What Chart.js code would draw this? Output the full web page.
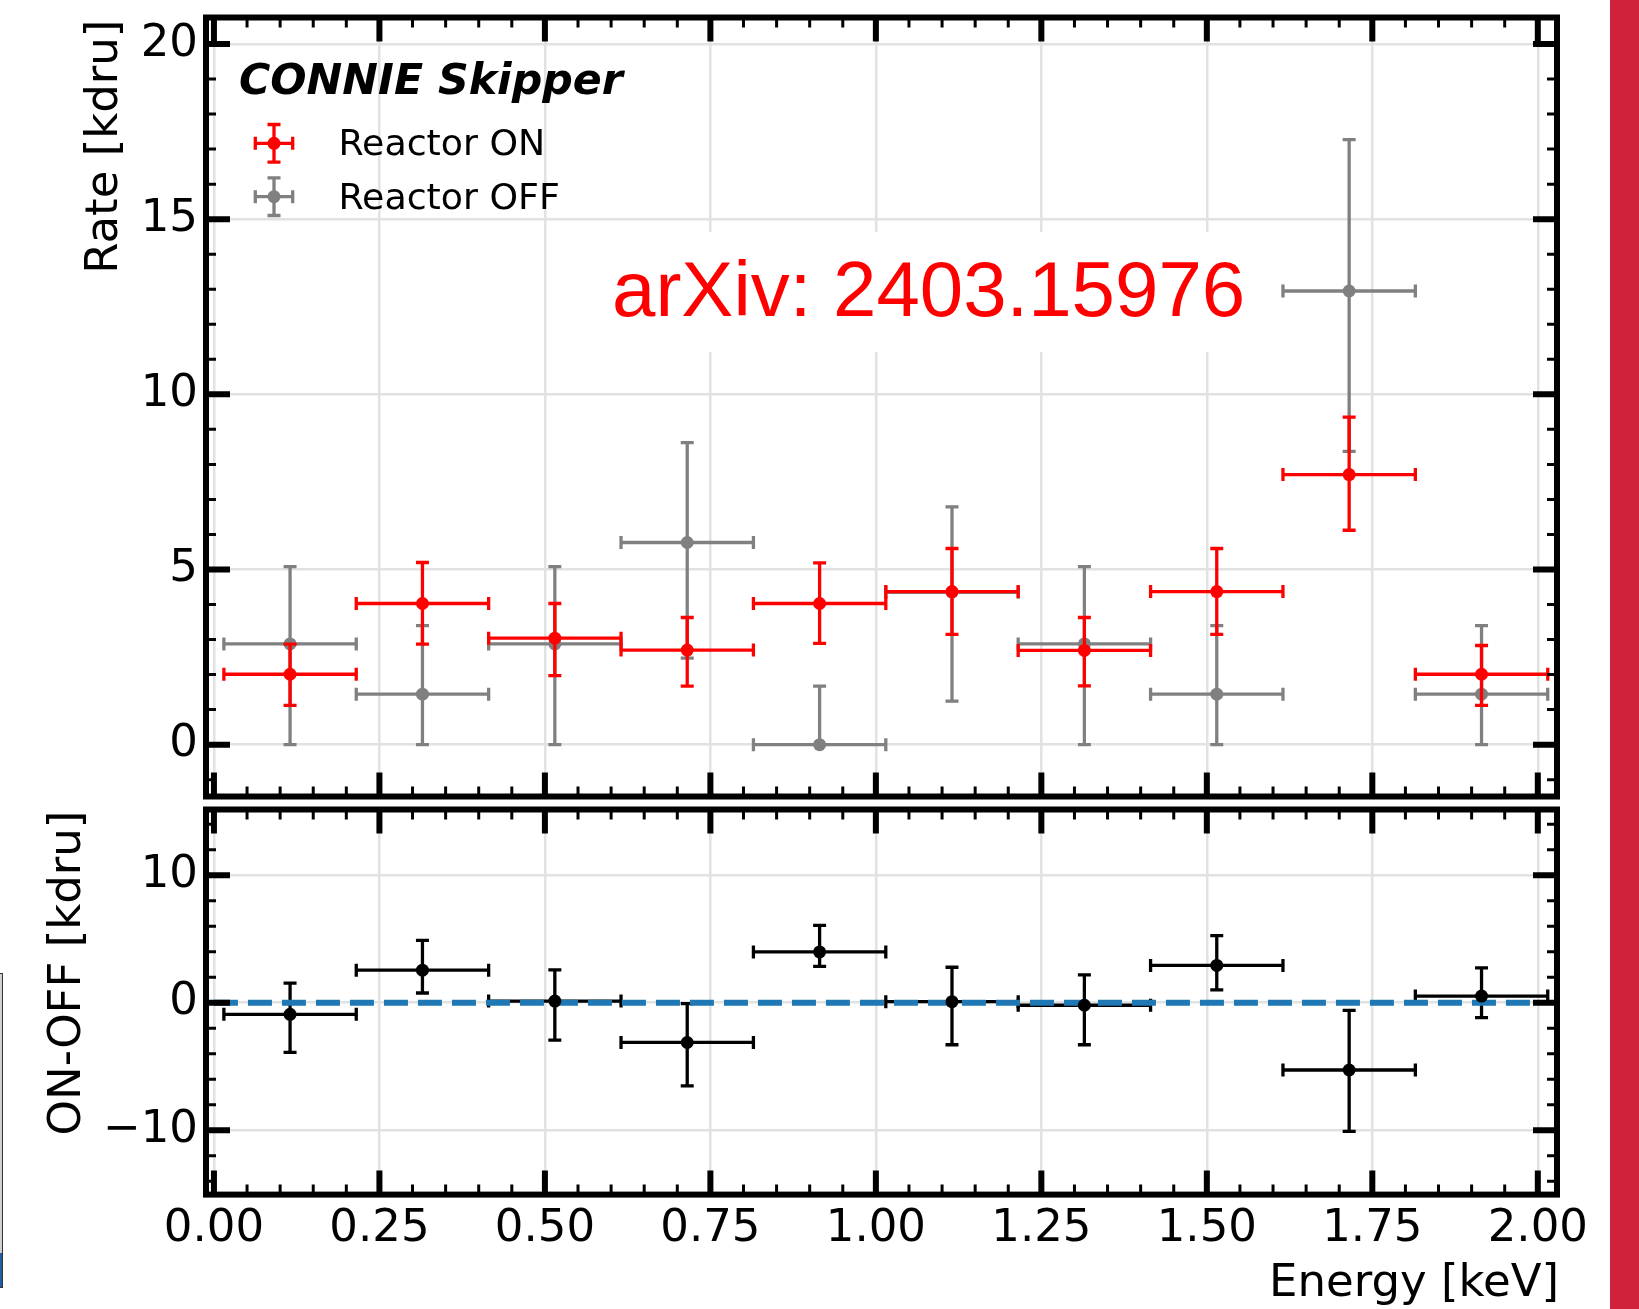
<!DOCTYPE html>
<html>
<head>
<meta charset="utf-8">
<script src="https://cdn.jsdelivr.net/npm/chart.js@4.4.1/dist/chart.umd.min.js"></script>
<style>
html, body { margin: 0; padding: 0; background: #fff; }
body { width: 1639px; height: 1309px; position: relative; overflow: hidden; }
canvas { position: absolute; left: 0; }
#topChart { top: 0; }
#bottomChart { top: 803px; }
#sideBar { position: absolute; left: 1610px; top: 0; width: 29px; height: 1309px; background: #d0233a; }
#leftStrip { position: absolute; left: 0; top: 973px; width: 2px; height: 280px; background: #cfcfcf;
  border: 1px solid #333; border-left: none; border-bottom: none; }
#leftStripBlue { position: absolute; left: 0; top: 1253px; width: 2px; height: 34px; background: #1f5f9f;
  border-right: 1px solid #333; border-bottom: 1px solid #333; }
</style>
</head>
<body>
<canvas id="topChart" width="1639" height="803"></canvas>
<canvas id="bottomChart" width="1639" height="506"></canvas>
<div id="sideBar"></div>
<div id="leftStrip"></div>
<div id="leftStripBlue"></div>
<script>
// bin centres [keV] and half width
const energy = [0.115, 0.315, 0.515, 0.715, 0.915, 1.115, 1.315, 1.515, 1.715, 1.915];
const binHalfWidth = 0.1;

// Reactor ON rate [kdru]
const rateOn      = [2.01, 4.03, 3.04, 2.70, 4.03, 4.37, 2.69, 4.37, 7.71, 2.01];
const rateOnErrLo = [0.89, 1.16, 1.07, 1.03, 1.14, 1.22, 1.01, 1.22, 1.59, 0.89];
const rateOnErrHi = [0.86, 1.17, 0.99, 0.93, 1.16, 1.23, 0.94, 1.23, 1.64, 0.82];

// Reactor OFF rate [kdru]
const rateOff      = [2.875, 1.44, 2.875, 5.77, 0.00, 4.35, 2.875, 1.44, 12.95, 1.44];
const rateOffErrLo = [2.875, 1.44, 2.875, 3.30, 0.00, 3.11, 2.875, 1.44, 4.58, 1.44];
const rateOffErrHi = [2.205, 1.96, 2.205, 2.85, 1.67, 2.44, 2.205, 1.96, 4.32, 1.96];

// ON - OFF [kdru]
const diff      = [-0.91, 2.55, 0.13, -3.12, 3.98, 0.08, -0.20, 2.92, -5.28, 0.52];
const diffErrLo = [2.99, 1.79, 3.06, 3.40, 1.14, 3.38, 3.10, 1.91, 4.81, 1.69];
const diffErrHi = [2.45, 2.34, 2.45, 3.04, 2.08, 2.70, 2.38, 2.34, 4.68, 2.21];

// zero reference line
const zeroLineX = [0.0, 2.0];

// ticks
const xTicks = [0, 0.25, 0.5, 0.75, 1.0, 1.25, 1.5, 1.75, 2.0];
const xTickLabels = ['0.00', '0.25', '0.50', '0.75', '1.00', '1.25', '1.50', '1.75', '2.00'];
const rateTicks = [0, 5, 10, 15, 20];
const rateTickLabels = ['0', '5', '10', '15', '20'];
const diffTicks = [-10, 0, 10];
const diffTickLabels = ['\u221210', '0', '10'];

Chart.defaults.font.family = '"DejaVu Sans"';
Chart.defaults.color = '#000';

const toPoints = (ys) => energy.map((e, i) => ({x: e, y: ys[i]}));
const xErr = energy.map(() => binHalfWidth);

function drawErrorBars(chart, ds) {
  if (!ds.errLo) return;
  const {ctx, chartArea: a, scales: {x, y}} = chart;
  const cap = 6.5;
  ctx.save();
  ctx.beginPath();
  ctx.rect(a.left, a.top, a.right - a.left, a.bottom - a.top);
  ctx.clip();
  ctx.strokeStyle = ds.backgroundColor;
  ctx.lineWidth = 3.3;
  ctx.lineCap = 'butt';
  ds.data.forEach((p, j) => {
    const px = x.getPixelForValue(p.x), py = y.getPixelForValue(p.y);
    const x0 = x.getPixelForValue(p.x - ds.xErr[j]), x1 = x.getPixelForValue(p.x + ds.xErr[j]);
    const y0 = y.getPixelForValue(p.y - ds.errLo[j]), y1 = y.getPixelForValue(p.y + ds.errHi[j]);
    ctx.beginPath();
    ctx.moveTo(x0, py); ctx.lineTo(x1, py);
    ctx.moveTo(px, y0); ctx.lineTo(px, y1);
    ctx.moveTo(x0, py - cap); ctx.lineTo(x0, py + cap);
    ctx.moveTo(x1, py - cap); ctx.lineTo(x1, py + cap);
    ctx.moveTo(px - cap, y0); ctx.lineTo(px + cap, y0);
    ctx.moveTo(px - cap, y1); ctx.lineTo(px + cap, y1);
    ctx.stroke();
  });
  ctx.restore();
}

const errorBars = {
  id: 'errorBars',
  beforeDatasetsDraw(chart, args, opts) {
    if (opts.under) chart.data.datasets.forEach(ds => drawErrorBars(chart, ds));
  },
  beforeDatasetDraw(chart, args, opts) {
    if (!opts.under) drawErrorBars(chart, chart.data.datasets[args.index]);
  }
};

// inward ticks on all four sides plus the black frame
const frameTicks = {
  id: 'frameTicks',
  afterDraw(chart, args, opts) {
    const {ctx, chartArea: a, scales: {x, y}} = chart;
    const major = 24, minor = 10;
    const isMajor = (list, v) => list.some(t => Math.abs(t - v) < 1e-6);
    const minorList = (scale, step, majors) => {
      const out = [];
      for (let k = Math.ceil(scale.min / step); k * step <= scale.max + 1e-9; k++) {
        const v = +(k * step).toFixed(6);
        if (!isMajor(majors, v)) out.push(v);
      }
      return out;
    };
    ctx.save();
    ctx.strokeStyle = '#000';
    ctx.lineCap = 'butt';
    const xs = (vals, len, w) => {
      ctx.lineWidth = w;
      ctx.beginPath();
      vals.forEach(v => {
        const px = x.getPixelForValue(v);
        ctx.moveTo(px, a.bottom); ctx.lineTo(px, a.bottom - len);
        ctx.moveTo(px, a.top); ctx.lineTo(px, a.top + len);
      });
      ctx.stroke();
    };
    const ys = (vals, len, w) => {
      ctx.lineWidth = w;
      ctx.beginPath();
      vals.forEach(v => {
        const py = y.getPixelForValue(v);
        ctx.moveTo(a.left, py); ctx.lineTo(a.left + len, py);
        ctx.moveTo(a.right, py); ctx.lineTo(a.right - len, py);
      });
      ctx.stroke();
    };
    xs(minorList(x, opts.xMinor, opts.xMajor), minor, 3);
    xs(opts.xMajor, major, 6);
    ys(minorList(y, opts.yMinor, opts.yMajor), minor, 3);
    ys(opts.yMajor, major, 6);
    ctx.lineWidth = 6;
    ctx.strokeRect(a.left, a.top, a.right - a.left, a.bottom - a.top);
    ctx.restore();
  }
};

// free text: axis titles
const texts = {
  id: 'texts',
  afterDatasetsDraw(chart, args, opts) {
    const {ctx} = chart;
    (opts.items || []).forEach(t => {
      ctx.save();
      ctx.translate(t.x, t.y);
      if (t.rotate) ctx.rotate(t.rotate);
      ctx.font = t.font;
      ctx.fillStyle = t.color || '#000';
      ctx.textAlign = t.align || 'left';
      ctx.textBaseline = 'alphabetic';
      ctx.fillText(t.text, 0, 0);
      ctx.restore();
    });
  }
};

const legendBox = {
  id: 'legendBox',
  afterDatasetsDraw(chart, args, opts) {
    const {ctx} = chart;
    ctx.save();
    ctx.font = 'italic bold 42.7px "DejaVu Sans"';
    ctx.fillStyle = '#000';
    ctx.fillText(opts.title, 239, 93.5);
    chart.data.datasets.forEach((ds, i) => {
      const cx = 274, cy = 143.3 + i * 53.4;
      ctx.strokeStyle = ds.backgroundColor;
      ctx.lineWidth = 3.3;
      ctx.beginPath();
      ctx.moveTo(cx - 18.7, cy); ctx.lineTo(cx + 18.7, cy);
      ctx.moveTo(cx, cy - 18.8); ctx.lineTo(cx, cy + 18.8);
      ctx.moveTo(cx - 18.7, cy - 6.5); ctx.lineTo(cx - 18.7, cy + 6.5);
      ctx.moveTo(cx + 18.7, cy - 6.5); ctx.lineTo(cx + 18.7, cy + 6.5);
      ctx.moveTo(cx - 6.5, cy - 18.8); ctx.lineTo(cx + 6.5, cy - 18.8);
      ctx.moveTo(cx - 6.5, cy + 18.8); ctx.lineTo(cx + 6.5, cy + 18.8);
      ctx.stroke();
      ctx.fillStyle = ds.backgroundColor;
      ctx.beginPath(); ctx.arc(cx, cy, 6.5, 0, Math.PI * 2); ctx.fill();
      ctx.fillStyle = '#000';
      ctx.font = '36.3px "DejaVu Sans"';
      ctx.fillText(ds.label, 338.5, cy + 12);
    });
    ctx.restore();
  }
};

// white box with the arXiv reference
const arxivNote = {
  id: 'arxivNote',
  beforeDatasetsDraw(chart, args, opts) {
    const {ctx} = chart;
    ctx.save();
    ctx.fillStyle = '#fff';
    ctx.fillRect(592, 232, 674, 120);
    ctx.font = '78px "Liberation Sans"';
    ctx.fillStyle = '#ff0000';
    ctx.fillText(opts.text, 612, 315.5);
    ctx.restore();
  }
};

const noPad = s => { s.paddingTop = 0; s.paddingBottom = 0; s.paddingLeft = 0; s.paddingRight = 0; };
const gridStyle = {color: '#e2e2e2', lineWidth: 2.5, drawTicks: false};

function xScale(showLabels, height) {
  return {
    type: 'linear', min: -0.012, max: 2.029,
    grid: gridStyle, border: {display: false},
    afterBuildTicks: s => { s.ticks = xTicks.map(v => ({value: v})); },
    ticks: {display: showLabels, padding: 8, font: {size: 45}, callback: (v, i) => xTickLabels[i]},
    afterFit: s => { s.height = height; noPad(s); }
  };
}

function yScale(min, max, ticks, labels) {
  return {
    type: 'linear', min: min, max: max,
    grid: gridStyle, border: {display: false},
    afterBuildTicks: s => { s.ticks = ticks.map(v => ({value: v})); },
    ticks: {padding: 8, font: {size: 45}, callback: (v, i) => labels[i]},
    afterFit: s => { s.width = 206; noPad(s); }
  };
}

new Chart(document.getElementById('topChart'), {
  type: 'scatter',
  data: {
    datasets: [
      {label: 'Reactor ON', data: toPoints(rateOn), xErr: xErr, errLo: rateOnErrLo, errHi: rateOnErrHi,
       backgroundColor: '#ff0000', pointRadius: 6.5, pointBorderWidth: 0},
      {label: 'Reactor OFF', data: toPoints(rateOff), xErr: xErr, errLo: rateOffErrLo, errHi: rateOffErrHi,
       backgroundColor: '#808080', pointRadius: 6.5, pointBorderWidth: 0}
    ]
  },
  options: {
    responsive: false, animation: false, events: [], devicePixelRatio: 1,
    layout: {padding: {left: 0, right: 82, top: 17.5, bottom: 0}},
    scales: {
      x: xScale(false, 4.3),
      y: yScale(-1.48, 20.757, rateTicks, rateTickLabels)
    },
    plugins: {
      legend: {display: false}, tooltip: {enabled: false},
      errorBars: {under: false},
      frameTicks: {xMajor: xTicks, xMinor: 0.05, yMajor: rateTicks, yMinor: 1},
      legendBox: {title: 'CONNIE Skipper'},
      arxivNote: {text: 'arXiv: 2403.15976'},
      texts: {items: [
        {text: 'Rate [kdru]', x: 117, y: 146.7, rotate: -Math.PI / 2, align: 'center', font: '45px "DejaVu Sans"'}
      ]}
    }
  },
  plugins: [arxivNote, errorBars, frameTicks, legendBox, texts]
});

new Chart(document.getElementById('bottomChart'), {
  type: 'scatter',
  data: {
    datasets: [
      {label: 'ON-OFF', data: toPoints(diff), xErr: xErr, errLo: diffErrLo, errHi: diffErrHi,
       backgroundColor: '#000000', pointRadius: 6.5, pointBorderWidth: 0, order: 0},
      {type: 'line', label: 'zero', data: zeroLineX.map(v => ({x: v, y: 0})), showLine: true,
       borderColor: '#1f77b4', borderWidth: 6, borderDash: [24, 10], pointRadius: 0, order: 1}
    ]
  },
  options: {
    responsive: false, animation: false, events: [], devicePixelRatio: 1,
    layout: {padding: {left: 0, right: 82, top: 4.5, bottom: 0}},
    scales: {
      x: xScale(true, 114.4),
      y: yScale(-15.05, 15.15, diffTicks, diffTickLabels)
    },
    plugins: {
      legend: {display: false}, tooltip: {enabled: false},
      errorBars: {under: true},
      frameTicks: {xMajor: xTicks, xMinor: 0.05, yMajor: diffTicks, yMinor: 2},
      texts: {items: [
        {text: 'ON-OFF [kdru]', x: 80, y: 170, rotate: -Math.PI / 2, align: 'center', font: '45px "DejaVu Sans"'},
        {text: 'Energy [keV]', x: 1559, y: 493, align: 'right', font: '45px "DejaVu Sans"'}
      ]}
    }
  },
  plugins: [errorBars, frameTicks, texts]
});
</script>
</body>
</html>
